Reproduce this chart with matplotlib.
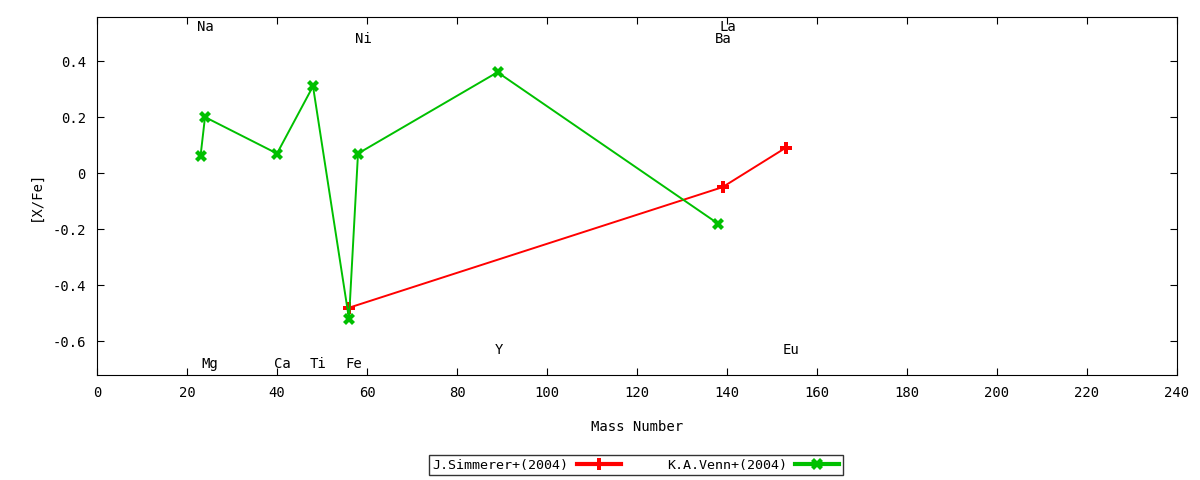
import matplotlib
matplotlib.use("Agg")
import matplotlib.pyplot as plt
from matplotlib.ticker import MultipleLocator, FuncFormatter

# Data
simmerer_mass = [56, 139, 153]
simmerer_xfe = [-0.48, -0.05, 0.09]
venn_mass = [23, 24, 40, 48, 56, 58, 89, 138]
venn_xfe = [0.06, 0.20, 0.07, 0.31, -0.52, 0.07, 0.36, -0.18]

elem_names = ["Na", "Mg", "Ca", "Ti", "Fe", "Ni", "Y", "Ba", "La", "Eu"]
elem_mass = [23, 24, 40, 48, 56, 58, 89, 138, 139, 153]
elem_label_y = [0.52, -0.68, -0.68, -0.68, -0.68, 0.48, -0.63, 0.48, 0.52, -0.63]

font = "DejaVu Sans Mono"
plt.rcParams['font.family'] = [font]
plt.rcParams['font.size'] = 10

fig = plt.figure(figsize=(12, 4.8), dpi=100)
ax = fig.add_axes([97/1200, 1-375/480, (1177-97)/1200, (375-17)/480])

ax.plot(simmerer_mass, simmerer_xfe, color="#ff0000", lw=1.4, marker="P",
        ms=8, mew=0, label="J.Simmerer+(2004)")
ax.plot(venn_mass, venn_xfe, color="#00c000", lw=1.4, marker="X",
        ms=8, mew=0, label="K.A.Venn+(2004)")

for n, m, y in zip(elem_names, elem_mass, elem_label_y):
    ax.text(m - 0.7, y, n, ha="left", va="center", fontsize=10)

ax.set_xlim(0, 240)
ax.set_ylim(-0.72, 0.557)
ax.xaxis.set_major_locator(MultipleLocator(20))
ax.yaxis.set_major_locator(MultipleLocator(0.2))
ax.yaxis.set_major_formatter(FuncFormatter(lambda v, p: "0" if abs(v) < 1e-9 else f"{v:.1f}"))
ax.tick_params(direction="in", top=True, right=True, length=5, labelsize=10, pad=8)
ax.set_xlabel("Mass Number", fontsize=10, labelpad=14)
ax.set_ylabel("[X/Fe]", fontsize=10, labelpad=7)

leg = fig.legend(loc="center", bbox_to_anchor=(636/1200, 1-465/480), ncol=2,
                 markerfirst=False, frameon=True, fancybox=False, fontsize=9.6,
                 handlelength=3.3, handletextpad=0.6, borderpad=0.27,
                 borderaxespad=0, columnspacing=3.5, edgecolor="black")
leg.get_frame().set_linewidth(1.0)
for h in leg.legend_handles:
    h.set_linewidth(3)

fig.savefig("out.png", dpi=100)
